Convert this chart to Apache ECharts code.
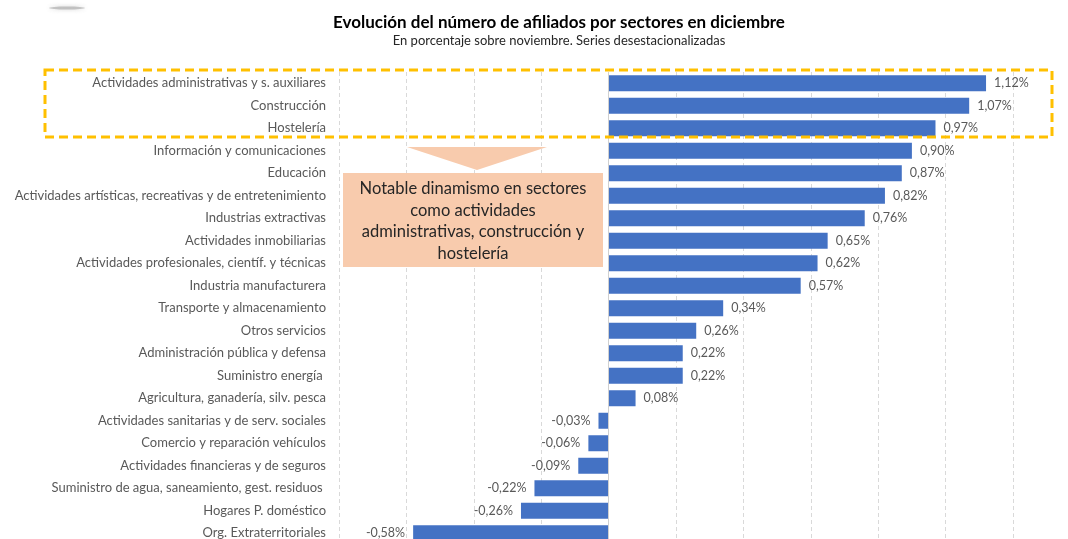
<!DOCTYPE html>
<html>
<head>
<meta charset="utf-8">
<script src="https://cdn.jsdelivr.net/npm/echarts@6/dist/echarts.min.js"></script>
<style>
  html, body { margin: 0; padding: 0; background: #fff; overflow: hidden; }
  /* algo más alto que la ventana: la última barra queda cortada como en el original */
  #main { width: 1068px; height: 550px; }
</style>
</head>
<body>
<div id="main"></div>
<script>
// sectores, de arriba abajo
const sectores = [
  'Actividades administrativas y s. auxiliares',
  'Construcción',
  'Hostelería',
  'Información y comunicaciones',
  'Educación',
  'Actividades artísticas, recreativas y de entretenimiento',
  'Industrias extractivas',
  'Actividades inmobiliarias',
  'Actividades profesionales, científ. y técnicas',
  'Industria manufacturera',
  'Transporte y almacenamiento',
  'Otros servicios',
  'Administración pública y defensa',
  'Suministro energía ',
  'Agricultura, ganadería, silv. pesca',
  'Actividades sanitarias y de serv. sociales',
  'Comercio y reparación vehículos',
  'Actividades financieras y de seguros',
  'Suministro de agua, saneamiento, gest. residuos ',
  'Hogares P. doméstico',
  'Org. Extraterritoriales'
];
// % sobre noviembre
const variacion = [1.12, 1.07, 0.97, 0.90, 0.87, 0.82, 0.76, 0.65, 0.62, 0.57,
  0.34, 0.26, 0.22, 0.22, 0.08, -0.03, -0.06, -0.09, -0.22, -0.26, -0.58];

const tituloTexto = 'Evolución del número de afiliados por sectores en diciembre';
const subtituloTexto = 'En porcentaje sobre noviembre. Series desestacionalizadas';
const notaLineas = ['Notable dinamismo en sectores', 'como actividades',
  'administrativas, construcción y', 'hostelería'];

const FONT = 'Lato, "Open Sans", sans-serif';
const gris = '#595959';

const chart = echarts.init(document.getElementById('main'));

const option = {
  backgroundColor: '#fff',
  animation: false,
  title: {
    text: tituloTexto,
    subtext: subtituloTexto,
    left: 554,
    textAlign: 'center',
    top: 9,
    itemGap: 3,
    textStyle: { fontFamily: FONT, fontSize: 17, fontWeight: 'bold', color: '#000' },
    subtextStyle: { fontFamily: FONT, fontSize: 13, color: '#262626' }
  },
  grid: { left: 339, width: 674, top: 72, height: 472.5, containLabel: false },
  xAxis: {
    type: 'value',
    min: -0.8,
    max: 1.2,
    interval: 0.2,
    axisLabel: { show: false },
    axisLine: { show: false },
    axisTick: { show: false },
    splitLine: { show: true, lineStyle: { color: '#d9d9d9', type: [4, 3], width: 1 } }
  },
  yAxis: {
    type: 'category',
    inverse: true,
    data: sectores,
    axisLine: { show: false, onZero: false },
    axisTick: { show: false },
    axisLabel: { color: gris, fontFamily: FONT, fontSize: 13, margin: 13 }
  },
  series: [{
    type: 'bar',
    barWidth: 16,
    itemStyle: { color: '#4472C4' },
    data: variacion.map(v => ({
      value: v,
      label: { position: v < 0 ? 'left' : 'right' }
    })),
    label: {
      show: true,
      distance: 8,
      color: gris,
      fontFamily: FONT,
      fontSize: 12.5,
      formatter: p => p.value.toFixed(2).replace('.', ',') + '%'
    },
    markLine: {
      silent: true,
      symbol: 'none',
      label: { show: false },
      lineStyle: { color: '#d0d0d0', type: 'solid', width: 1 },
      data: [{ xAxis: 0 }]
    }
  }],
  graphic: [
    // sombra residual arriba a la izquierda
    {
      type: 'ellipse', shape: { cx: 67, cy: 8, rx: 18, ry: 1.5 },
      style: { fill: 'rgba(150,150,150,0.5)', shadowBlur: 4, shadowColor: 'rgba(120,120,120,0.6)' }
    },
    // recuadro discontinuo
    {
      type: 'rect', shape: { x: 45, y: 70, width: 1007, height: 67 },
      style: { fill: 'none', stroke: '#FFC000', lineWidth: 3, lineDash: [9, 5] },
      z: 10
    },
    // flecha
    {
      type: 'polygon', shape: { points: [[407, 147], [547, 147], [477, 170]] },
      style: { fill: '#F8CBAD' }, z: 10
    },
    // cuadro de texto
    {
      type: 'rect', shape: { x: 343, y: 173, width: 260, height: 94 },
      style: { fill: '#F8CBAD' }, z: 10
    },
    {
      type: 'text', x: 473, y: 221, z: 11,
      style: {
        text: notaLineas.join('\n'),
        fill: '#262626',
        font: '16.5px ' + FONT,
        align: 'center',
        verticalAlign: 'middle',
        lineHeight: 21.5
      }
    }
  ]
};

chart.setOption(option);
</script>
</body>
</html>
